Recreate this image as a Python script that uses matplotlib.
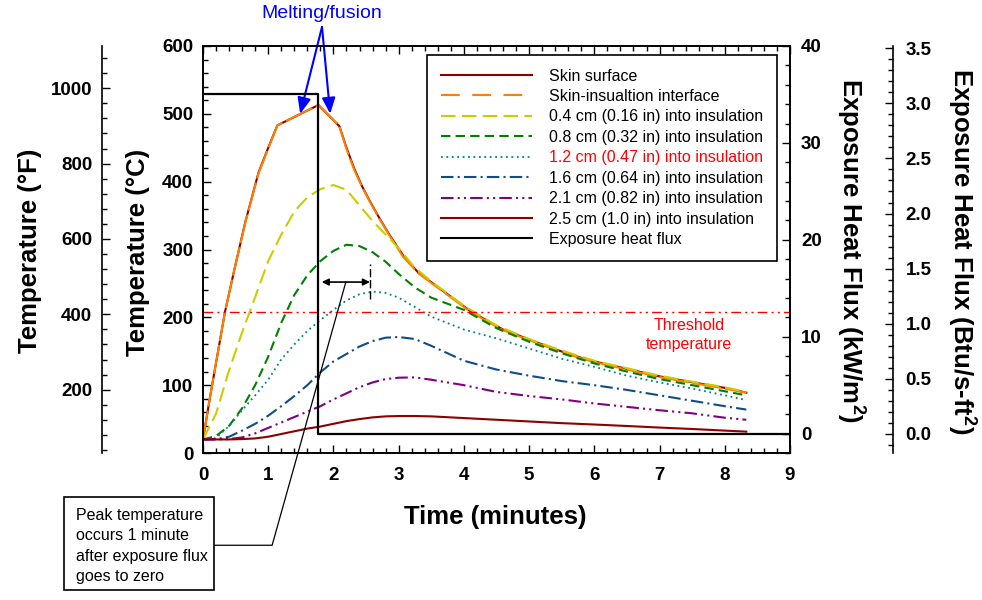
import matplotlib
matplotlib.use("Agg")
import numpy as np
import matplotlib.pyplot as plt
from matplotlib.lines import Line2D
from matplotlib.patches import Rectangle
from matplotlib.ticker import MultipleLocator, FixedLocator, FormatStrFormatter

plt.rcParams['font.family'] = ['Liberation Sans', 'DejaVu Sans']
plt.rcParams['font.weight'] = 'bold'
plt.rcParams['mathtext.fontset'] = 'custom'
plt.rcParams['mathtext.rm'] = 'Liberation Sans:bold'
plt.rcParams['mathtext.it'] = 'Liberation Sans:bold'
plt.rcParams['mathtext.bf'] = 'Liberation Sans:bold'

# ---- temperature histories (time in minutes, temperature in deg C) ----
t_skin = [0, 0.1, 0.2, 0.337, 0.48, 0.65, 0.85, 1.0, 1.14, 1.77, 2.09, 2.2, 2.32,
          2.44, 2.56, 2.7, 2.85, 3.07, 3.3, 3.58, 3.85, 4.1, 4.6, 5.12, 5.63, 6.0,
          6.5, 7.0, 7.52, 8.0, 8.33]
skin_surface = [20, 78, 133, 208, 270, 341, 413, 450, 483, 513, 482, 450, 419,
                393, 371, 347, 323, 291, 266, 246, 227, 209, 182, 163, 145, 135,
                124, 113, 104, 96, 89]
skin_interface = [20, 78, 133, 208, 270, 340, 412, 449, 483, 513, 482, 448, 417,
                  392, 370, 346, 322, 289, 265, 245, 226, 208, 181, 162, 144.5, 134,
                  123, 112, 103, 95, 89]

t_grid = [0, 0.2, 0.4, 0.6, 0.8, 1.0, 1.2, 1.4, 1.6, 1.8, 2.0, 2.2, 2.4, 2.6, 2.8,
          3.0, 3.25, 3.5, 4.0, 4.5, 5.0, 5.5, 6.0, 6.5, 7.0, 7.5, 8.0, 8.33]
ins_04 = [20, 58, 122, 178, 230, 283, 322, 356, 377, 389, 395, 388, 365, 342, 322,
          302, 273, 253, 217, 188, 168, 151, 136, 125, 114, 105, 97, 90]
ins_08 = [20, 25, 40, 66, 100, 142, 192, 233, 262, 283, 298, 307, 305, 296, 282,
          264, 244, 229, 211, 184, 164, 147, 132, 120, 109, 100, 91, 85]
ins_12 = [20, 22, 40, 63, 85, 108, 138, 160, 180, 196, 211, 225, 234, 238, 236,
          229, 215, 201, 182, 169, 154, 139, 127, 114, 104, 95, 85, 78]
ins_16 = [20, 20.5, 24, 33, 43, 55, 69, 84, 100, 119, 135, 146, 157, 165, 170,
          171, 168, 158, 136, 123, 114, 106, 100, 93, 85, 77, 69, 64]
ins_21 = [20, 20, 20.5, 23, 29, 37, 45, 53, 61, 69, 79, 88, 97, 104, 109,
          111, 111.5, 108, 100, 90, 84, 79, 73, 68, 63, 58.5, 52, 49]
ins_25 = [20, 20, 20, 20.5, 21.5, 24, 28, 32, 36, 39, 43, 47, 50, 52.5, 54,
          54.5, 54.5, 54, 51.5, 49, 46.5, 44, 42, 39.8, 37.5, 35.4, 33, 31.5]

# ---- exposure heat flux (kW/m^2) ----
flux_t = [0.0, 1.77, 1.77, 9.0]
flux_q = [35.0, 35.0, 0.0, 0.0]

threshold_c = 208

labels = ['Skin surface', 'Skin-insualtion interface',
          '0.4 cm (0.16 in) into insulation', '0.8 cm (0.32 in) into insulation',
          '1.2 cm (0.47 in) into insulation', '1.6 cm (0.64 in) into insulation',
          '2.1 cm (0.82 in) into insulation', '2.5 cm (1.0 in) into insulation',
          'Exposure heat flux']

c_darkred = '#8b0000'
c_orange = '#ff8000'
c_yellow = '#cccc00'
c_green = '#008000'
c_teal = '#008080'
c_blue = '#0f4c8a'
c_purple = '#800080'

fig = plt.figure(figsize=(9.82, 6.0), dpi=100)
ax = fig.add_axes([203 / 982, 1 - 453 / 600, 587 / 982, 407 / 600])

lw = 1.5
tick_size = 13.5
ax.plot(t_skin, skin_surface, color=c_darkred, lw=lw)
ax.plot(t_skin, skin_interface, color=c_orange, lw=lw, dashes=(14, 2))
ax.plot(t_grid, ins_04, color=c_yellow, lw=lw, dashes=(7, 3))
ax.plot(t_grid, ins_08, color=c_green, lw=lw, dashes=(4.5, 2.5))
ax.plot(t_grid, ins_12, color=c_teal, lw=1.3, dashes=(1, 2))
ax.plot(t_grid, ins_16, color=c_blue, lw=lw, dashes=(6, 2, 1, 2))
ax.plot(t_grid, ins_21, color=c_purple, lw=lw, dashes=(6, 2, 1, 2, 1, 2))
ax.plot(t_grid, ins_25, color=c_darkred, lw=lw)
ax.axhline(threshold_c, color='red', lw=1.0, dashes=(7, 3, 1.5, 3, 1.5, 3))

ax.set_xlim(0, 9)
ax.set_ylim(0, 600)
ax.xaxis.set_major_locator(MultipleLocator(1))
ax.xaxis.set_minor_locator(MultipleLocator(0.2))
ax.yaxis.set_major_locator(MultipleLocator(100))
ax.yaxis.set_minor_locator(MultipleLocator(20))
ax.tick_params(which='both', direction='in', top=True, right=False, width=1)
ax.tick_params(which='major', length=6, labelsize=tick_size, pad=7)
ax.tick_params(which='minor', length=3.5)
ax.tick_params(axis='x', which='major', pad=10)
for s in ax.spines.values():
    s.set_linewidth(1.2)

# heat flux axis
axq = ax.twinx()
axq.plot(flux_t, flux_q, color='black', lw=1.6)
axq.set_ylim(-2, 40)
axq.yaxis.set_major_locator(MultipleLocator(10))
axq.yaxis.set_minor_locator(MultipleLocator(2))
axq.tick_params(which='both', direction='in', width=1)
axq.tick_params(which='major', length=6, labelsize=tick_size, pad=8)
axq.tick_params(which='minor', length=3.5)
for s in axq.spines.values():
    s.set_linewidth(1.2)

# Fahrenheit axis
sec_f = ax.secondary_yaxis((102 - 203) / 587,
                           functions=(lambda c: c * 1.8 + 32, lambda f: (f - 32) / 1.8))
sec_f.yaxis.set_major_locator(FixedLocator([200, 400, 600, 800, 1000]))
sec_f.yaxis.set_minor_locator(FixedLocator(list(range(40, 1112, 40))))
sec_f.tick_params(which='both', direction='in', width=1)
sec_f.tick_params(which='major', length=6, labelsize=tick_size, pad=7)
sec_f.tick_params(which='minor', length=3.5)
sec_f.spines['left'].set_linewidth(1.2)

# Btu/s-ft2 axis
kw_per_btu = 11.357
sec_b = axq.secondary_yaxis((893 - 203) / 587,
                            functions=(lambda q: q / kw_per_btu, lambda b: b * kw_per_btu))
sec_b.yaxis.set_major_locator(FixedLocator([0.0, 0.5, 1.0, 1.5, 2.0, 2.5, 3.0, 3.5]))
sec_b.yaxis.set_minor_locator(FixedLocator([i / 10 for i in range(-1, 36)]))
sec_b.yaxis.set_major_formatter(FormatStrFormatter('%.1f'))
sec_b.tick_params(which='both', direction='in', width=1)
sec_b.tick_params(which='major', length=6, labelsize=tick_size, pad=9)
sec_b.tick_params(which='minor', length=3.5)
sec_b.spines['right'].set_linewidth(1.2)

# axis titles
fig.text(495 / 982, 1 - 517 / 600, 'Time (minutes)', ha='center', va='center',
         fontsize=18.5, weight='bold')
fig.text(138 / 982, 1 - 252 / 600, 'Temperature (°C)', rotation=90, ha='center',
         va='center', fontsize=18.5, weight='bold')
fig.text(30 / 982, 1 - 251 / 600, 'Temperature (°F)', rotation=90, ha='center',
         va='center', fontsize=18.5, weight='bold')
fig.text(850 / 982, 1 - 251 / 600, r'Exposure Heat Flux (kW/m$^2$)', rotation=270,
         ha='center', va='center', fontsize=18.5, weight='bold')
fig.text(961 / 982, 1 - 251 / 600, r'Exposure Heat Flux (Btu/s-ft$^2$)', rotation=270,
         ha='center', va='center', fontsize=18.5, weight='bold')

# legend
handles = [
    Line2D([], [], color=c_darkred, lw=lw),
    Line2D([], [], color=c_orange, lw=lw, dashes=(9, 6)),
    Line2D([], [], color=c_yellow, lw=lw, dashes=(7, 3)),
    Line2D([], [], color=c_green, lw=lw, dashes=(4.5, 2.5)),
    Line2D([], [], color=c_teal, lw=1.3, dashes=(1, 2)),
    Line2D([], [], color=c_blue, lw=lw, dashes=(6, 2, 1, 2)),
    Line2D([], [], color=c_purple, lw=lw, dashes=(6, 2, 1, 2, 1, 2)),
    Line2D([], [], color=c_darkred, lw=lw),
    Line2D([], [], color='black', lw=lw),
]
leg = fig.legend(handles, labels, loc='upper left',
                 bbox_to_anchor=(427 / 982, 1 - 55 / 600), bbox_transform=fig.transFigure,
                 prop=dict(size=11.5, weight='normal'), frameon=True, fancybox=False,
                 edgecolor='black', framealpha=1, handlelength=5.7, handletextpad=1.1,
                 labelspacing=0.34, borderpad=0.85, borderaxespad=0)
leg.get_frame().set_linewidth(1.2)
leg.get_texts()[4].set_color('red')

# threshold note
ax.text(7.45, 174, 'Threshold\ntemperature', color='red', ha='center', va='center',
        fontsize=11.5, weight='normal', linespacing=1.35)

# melting / fusion callout
fig.text(322 / 982, 1 - 14 / 600, 'Melting/fusion', color='blue', ha='center',
         va='center', fontsize=14, weight='normal')
for tip in [(1.49, 500), (1.95, 500)]:
    ax.annotate('', xy=tip, xytext=(322 / 982, 1 - 27 / 600), textcoords='figure fraction',
                arrowprops=dict(arrowstyle='-|>,head_length=0.6,head_width=0.25',
                                color='blue', lw=1.5, mutation_scale=16,
                                shrinkA=0, shrinkB=0), annotation_clip=False)

# time lag between flux cut-off and peak at 1.2 cm
ax.annotate('', xy=(1.82, 252), xytext=(2.56, 252),
            arrowprops=dict(arrowstyle='<|-|>', color='black', lw=1.2, mutation_scale=10,
                            shrinkA=0, shrinkB=0))
ax.plot([2.56, 2.56], [227, 279], color='black', lw=1.0, dashes=(6, 2))

# peak-time note
ax.plot([0.17, 1.06, 2.19], [-136, -136, 252], color='black', lw=0.9, clip_on=False)
fig.add_artist(Rectangle((64 / 982, 1 - 590 / 600), 150 / 982, 93 / 600,
                         transform=fig.transFigure, facecolor='white', edgecolor='black',
                         lw=1.2))
fig.text(76 / 982, 1 - 546 / 600,
         'Peak temperature\noccurs 1 minute\nafter exposure flux\ngoes to zero',
         ha='left', va='center', fontsize=11.5, weight='normal', linespacing=1.45)

fig.savefig('out.png', dpi=100)
